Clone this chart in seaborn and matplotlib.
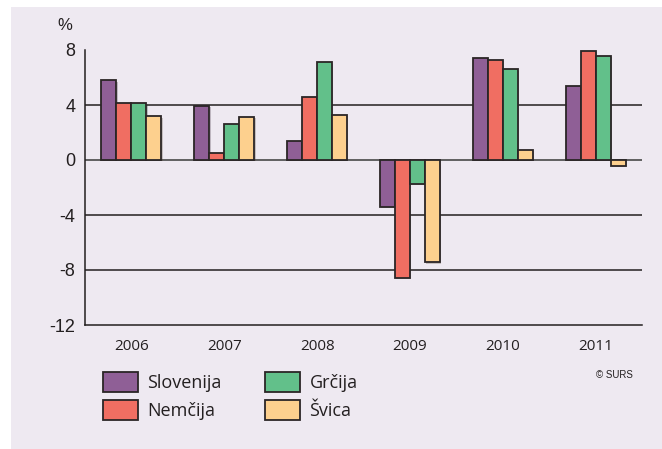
import matplotlib
matplotlib.use("Agg")
import matplotlib.pyplot as plt
import matplotlib.patches as mpatches
import matplotlib.patheffects as pe
import seaborn as sns
import pandas as pd

years = ["2006", "2007", "2008", "2009", "2010", "2011"]
countries = ["Slovenija", "Nemčija", "Grčija", "Švica"]
slovenija = [5.8, 3.95, 1.4, -3.4, 7.4, 5.4]
nemcija = [4.13, 0.48, 4.55, -8.55, 7.27, 7.95]
grcija = [4.17, 2.63, 7.1, -1.72, 6.6, 7.58]
svica = [3.19, 3.12, 3.28, -7.45, 0.72, -0.43]
colors = ["#8F5F96", "#F06E62", "#62C08A", "#FDD08E"]
y_ticks = [-12, -8, -4, 0, 4, 8]

series = [slovenija, nemcija, grcija, svica]
rows = []
for c, vals in zip(countries, series):
    for y, v in zip(years, vals):
        rows.append({"year": y, "country": c, "value": v})
df = pd.DataFrame(rows)

sns.set_style("white")
plt.rcParams["font.family"] = ["Open Sans", "DejaVu Sans"]

W, H = 662, 449
fig = plt.figure(figsize=(W / 100, H / 100), dpi=100)
fig.patch.set_facecolor("white")
bg = "#EEE9F1"
fig.add_artist(mpatches.Rectangle((11 / W, 0), 1 - 11 / W, 1 - 7 / H,
                                  transform=fig.transFigure, facecolor=bg,
                                  edgecolor="none", zorder=0))

ax = fig.add_axes([85 / W, 1 - 325 / H, (642 - 85) / W, (325 - 50) / H])
ax.set_facecolor("none")

sns.barplot(data=df, x="year", y="value", hue="country", order=years,
            hue_order=countries, palette=colors, width=0.645, gap=0,
            edgecolor="#2a2526", linewidth=1.3, saturation=1,
            legend=False, ax=ax, zorder=3)
for p in ax.patches:
    p.set_path_effects([pe.SimplePatchShadow(offset=(1, -1), alpha=0.25),
                        pe.Normal()])

ax.set_xlim(-0.5, 5.5)
ax.set_ylim(-12, 8)
ax.set_yticks(y_ticks)
ax.set_yticklabels([str(t) for t in y_ticks], family="Liberation Sans",
                   fontsize=13, color="#231F20")
for t in [4, -4, -8]:
    ax.axhline(t, color="#231F20", lw=1.1, zorder=1)
ax.axhline(0, color="#555555", lw=1.3, zorder=1)

for s in ["top", "right"]:
    ax.spines[s].set_visible(False)
for s in ["left", "bottom"]:
    ax.spines[s].set_color("#231F20")
    ax.spines[s].set_linewidth(1.1)
ax.tick_params(axis="y", length=5, width=1, color="#231F20", pad=2)
ax.tick_params(axis="x", length=0, pad=10, labelsize=11, labelcolor="#231F20")
ax.set_xlabel("")
ax.set_ylabel("")

fig.text(65 / W, 1 - 25 / H, "%", ha="center", va="center",
         fontsize=12, color="#231F20", family="Liberation Sans")
fig.text(633 / W, 1 - 375 / H, "© SURS", ha="right", va="center",
         fontsize=7, color="#231F20", family="Liberation Sans")

handles = [mpatches.Patch(facecolor=c, edgecolor="#2a2526", linewidth=1.3,
                          label=l) for c, l in zip(colors, countries)]
leg = fig.legend(handles=handles, ncol=2, loc="upper left",
                 bbox_to_anchor=(87 / W, 1 - 356 / H), frameon=False,
                 fontsize=13, handlelength=1.9, handleheight=1.3,
                 handletextpad=0.55, labelspacing=0.45, columnspacing=2.4,
                 labelcolor="#231F20")

fig.savefig("out.png", dpi=100, facecolor="white")
